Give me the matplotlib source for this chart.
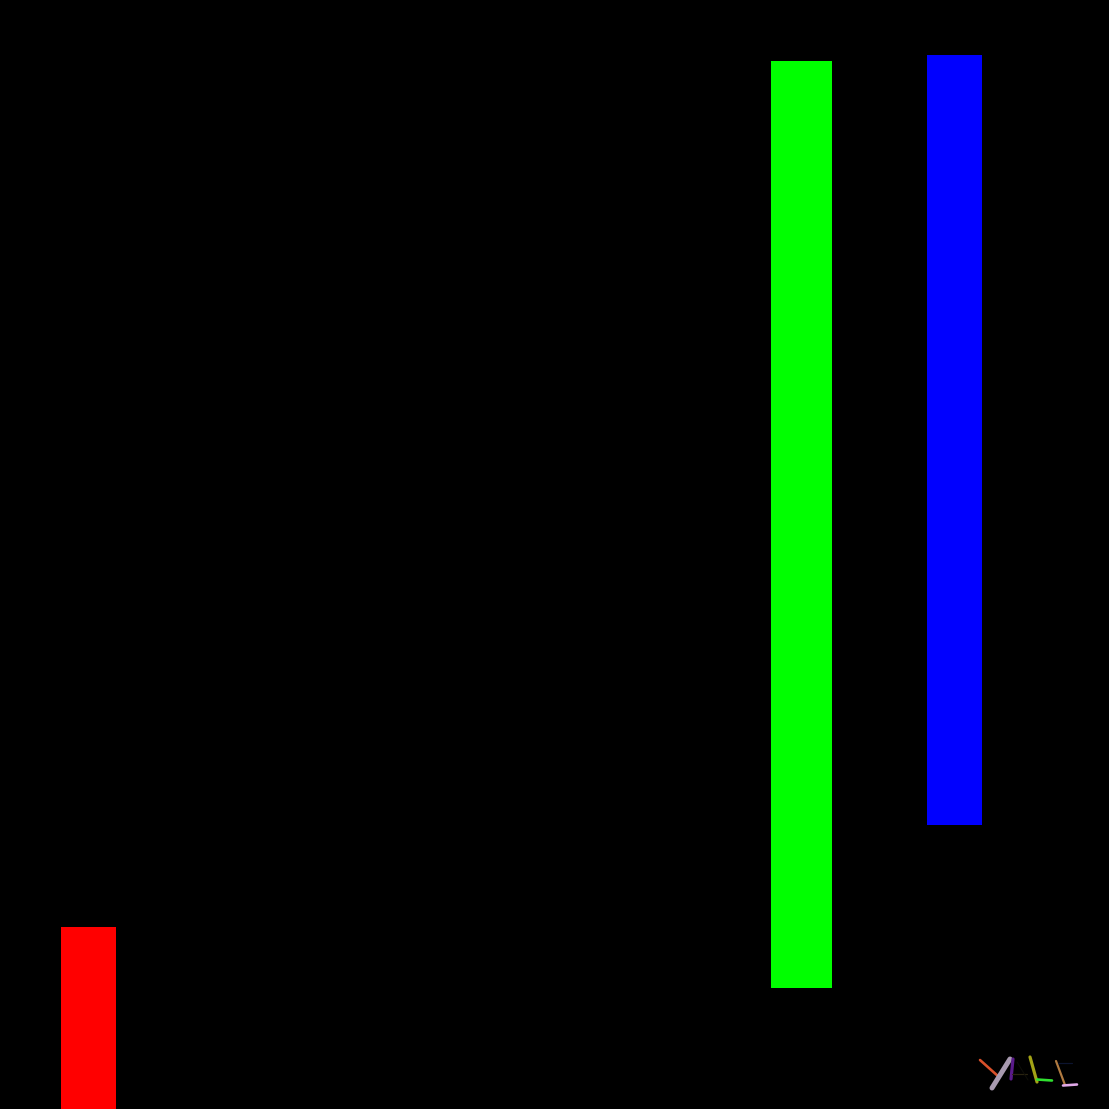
import matplotlib
matplotlib.use('Agg')
import matplotlib.pyplot as plt

# bars, in picture pixels
bar_left = [61, 771, 927]
bar_right = [115.5, 832, 982]
bar_top = [927, 61, 54.5]
bar_bottom = [1109, 988, 825]
bar_colors = ['#ff0000', '#00ff00', '#0000ff']

# little hand drawn strokes in the bottom right corner
stroke_x = [[980, 999], [1010, 992], [1013, 1011], [1012, 1027], [1017, 1028],
            [1030, 1037], [1037, 1052], [1056, 1065], [1058, 1072], [1063, 1077]]
stroke_y = [[1060, 1077], [1059, 1088], [1059, 1079], [1074, 1074], [1062, 1080],
            [1057, 1082], [1079.5, 1080.5], [1061, 1085], [1063, 1063], [1085.5, 1084.5]]
stroke_colors = ['#d9502a', '#a89ab0', '#5a1a8a', '#2a2410', '#0e0e08',
                 '#a3a316', '#30e030', '#b07a40', '#0c1430', '#e0a8e8']
stroke_widths = [2.6, 5.0, 3.2, 1.2, 1.0, 3.2, 2.6, 2.2, 1.2, 2.6]

fig = plt.figure(figsize=(11.09, 11.09), dpi=100, facecolor='black')
ax = fig.add_axes([0, 0, 1, 1])
ax.set_facecolor('black')
ax.set_xlim(0, 1109)
ax.set_ylim(1109, 0)
ax.axis('off')

for i in range(len(bar_left)):
    ax.bar(bar_left[i], bar_bottom[i] - bar_top[i], width=bar_right[i] - bar_left[i],
           bottom=bar_top[i], align='edge', color=bar_colors[i], linewidth=0)

for i in range(len(stroke_x)):
    # widths given in pixels, matplotlib wants points
    ax.plot(stroke_x[i], stroke_y[i], color=stroke_colors[i],
            linewidth=stroke_widths[i] * 0.72, solid_capstyle='round')

fig.savefig('out.png', dpi=100, facecolor='black')
